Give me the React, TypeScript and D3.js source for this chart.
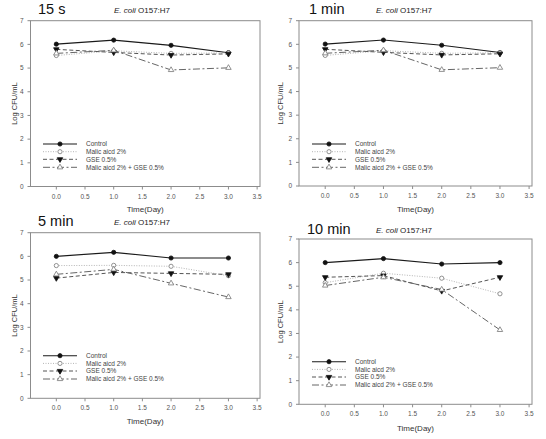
import React from "react";
import * as d3 from "d3";

const days = [0, 1, 2, 3];
const seriesNames = ["Control", "Malic aicd 2%", "GSE 0.5%", "Malic aicd 2% + GSE 0.5%"];
const panelTitles = ["15 s", "1 min", "5 min", "10 min"];
const organism = ["E. coli", " O157:H7"];
const xTicks = [0, 0.5, 1, 1.5, 2, 2.5, 3, 3.5];
const yTicks = [0, 1, 2, 3, 4, 5, 6, 7];

const control15s = [6.01, 6.18, 5.96, 5.65];
const malic15s = [5.53, 5.73, 5.62, 5.64];
const gse15s = [5.79, 5.66, 5.55, 5.6];
const combo15s = [5.62, 5.75, 4.92, 5.01];

const control1min = [6.01, 6.18, 5.96, 5.65];
const malic1min = [5.53, 5.73, 5.62, 5.64];
const gse1min = [5.79, 5.66, 5.55, 5.6];
const combo1min = [5.62, 5.75, 4.92, 5.01];

const control5min = [6.0, 6.17, 5.93, 5.93];
const malic5min = [5.61, 5.62, 5.58, 5.18];
const gse5min = [5.08, 5.32, 5.28, 5.24];
const combo5min = [5.24, 5.45, 4.86, 4.28];

const control10min = [6.0, 6.17, 5.94, 6.0];
const malic10min = [5.15, 5.55, 5.34, 4.68];
const gse10min = [5.38, 5.45, 4.8, 5.38];
const combo10min = [5.03, 5.38, 4.86, 3.15];

const panelData = [
  [control15s, malic15s, gse15s, combo15s],
  [control1min, malic1min, gse1min, combo1min],
  [control5min, malic5min, gse5min, combo5min],
  [control10min, malic10min, gse10min, combo10min],
];

// layout (pixel frames)
const layouts = [
  { left: 30.5, right: 260, top: 20.7, bottom: 186.5, titleX: 38, titleY: 14, orgX: 114, orgY: 13, xLabelY: 212, yLabelX: 14, legX: 43, legY: 144 },
  { left: 299, right: 532, top: 20.7, bottom: 186, titleX: 309, titleY: 14, orgX: 376, orgY: 13, xLabelY: 212, yLabelX: 280, legX: 312, legY: 144 },
  { left: 30.5, right: 260, top: 232.7, bottom: 398.3, titleX: 38, titleY: 226, orgX: 114, orgY: 225, xLabelY: 424, yLabelX: 14, legX: 43, legY: 355.7 },
  { left: 299, right: 532, top: 239, bottom: 404.3, titleX: 307, titleY: 233.5, orgX: 376, orgY: 232.5, xLabelY: 431, yLabelX: 280, legX: 312, legY: 361.7 },
];

const styles = [
  { stroke: "#1a1a1a", dash: "none", width: 1.1, marker: "circle", fill: "#111", mstroke: "#111" },
  { stroke: "#b5b5b5", dash: "1,1.5", width: 1, marker: "circle", fill: "#fff", mstroke: "#777" },
  { stroke: "#555", dash: "4,2.5", width: 1, marker: "tridown", fill: "#111", mstroke: "#111" },
  { stroke: "#666", dash: "7,2.5,2,2.5", width: 1, marker: "triup", fill: "#fff", mstroke: "#777" },
];

const font = "Arial, 'Liberation Sans', sans-serif";

function Marker({ x, y, s }: { x: number; y: number; s: any }) {
  if (s.marker === "circle") {
    return <circle cx={x} cy={y} r={2.1} fill={s.fill} stroke={s.mstroke} strokeWidth={0.8} />;
  }
  const sym = d3.symbol().type(d3.symbolTriangle).size(13)();
  const rot = s.marker === "tridown" ? 180 : 0;
  return (
    <path
      d={sym || ""}
      transform={`translate(${x},${y}) rotate(${rot})`}
      fill={s.fill}
      stroke={s.mstroke}
      strokeWidth={0.8}
    />
  );
}

function Panel({ idx }: { idx: number }) {
  const L = layouts[idx];
  const x = d3.scaleLinear().domain([-0.45, 3.55]).range([L.left, L.right]);
  const y = d3.scaleLinear().domain([0, 7]).range([L.bottom, L.top]);
  const line = d3
    .line<number>()
    .x((_, i) => x(days[i]))
    .y((d) => y(d));
  const series = panelData[idx];
  const legRowGap = [0, 7.7, 15.3, 23.3];
  return (
    <g>
      <rect
        x={L.left}
        y={L.top}
        width={L.right - L.left}
        height={L.bottom - L.top}
        fill="none"
        stroke="#8c8c8c"
        strokeWidth={1}
      />
      {yTicks.map((t) => (
        <g key={"y" + t}>
          <line x1={L.left - 3} x2={L.left} y1={y(t)} y2={y(t)} stroke="#8c8c8c" />
          <text
            x={L.left - 7}
            y={y(t) + 2.3}
            fontSize={6.5}
            textAnchor="end"
            fill="#555"
            fontFamily={font}
          >
            {t}
          </text>
        </g>
      ))}
      {xTicks.map((t) => (
        <g key={"x" + t}>
          <line x1={x(t)} x2={x(t)} y1={L.bottom} y2={L.bottom + 3} stroke="#8c8c8c" />
          <text
            x={x(t)}
            y={L.bottom + 12}
            fontSize={6.5}
            textAnchor="middle"
            fill="#555"
            fontFamily={font}
          >
            {d3.format(".1f")(t)}
          </text>
        </g>
      ))}
      <text
        x={(L.left + L.right) / 2}
        y={L.xLabelY}
        fontSize={8}
        textAnchor="middle"
        fill="#333"
        fontFamily={font}
      >
        Time(Day)
      </text>
      <text
        transform={`translate(${L.yLabelX},${(L.top + L.bottom) / 2}) rotate(-90)`}
        fontSize={7.5}
        textAnchor="middle"
        dy={2.5}
        fill="#333"
        fontFamily={font}
      >
        Log CFU/mL
      </text>
      <text x={L.titleX} y={L.titleY} fontSize={14.5} fill="#111" fontFamily={font}>
        {panelTitles[idx]}
      </text>
      <text x={L.orgX} y={L.orgY} fontSize={8} fill="#222" fontFamily={font}>
        <tspan fontStyle="italic">{organism[0]}</tspan>
        <tspan>{organism[1]}</tspan>
      </text>
      {series.map((vals, si) => (
        <path
          key={"l" + si}
          d={line(vals) || ""}
          fill="none"
          stroke={styles[si].stroke}
          strokeWidth={styles[si].width}
          strokeDasharray={styles[si].dash}
        />
      ))}
      {series.map((vals, si) =>
        vals.map((v, i) => <Marker key={"m" + si + "-" + i} x={x(days[i])} y={y(v)} s={styles[si]} />)
      )}
      {seriesNames.map((name, si) => {
        const ly = L.legY + legRowGap[si];
        return (
          <g key={"leg" + si}>
            <line
              x1={L.legX}
              x2={L.legX + 34}
              y1={ly}
              y2={ly}
              stroke={styles[si].stroke}
              strokeWidth={styles[si].width}
              strokeDasharray={styles[si].dash}
            />
            <Marker x={L.legX + 17} y={ly} s={styles[si]} />
            <text x={L.legX + 43} y={ly + 2.3} fontSize={6.5} fill="#444" fontFamily={font}>
              {name}
            </text>
          </g>
        );
      })}
    </g>
  );
}

export default function App() {
  return (
    <svg
      width={546}
      height={439}
      style={{ position: "absolute", left: 0, top: 0, background: "#fff" }}
    >
      <rect x={0} y={0} width={546} height={439} fill="#fff" />
      {[0, 1, 2, 3].map((i) => (
        <Panel key={i} idx={i} />
      ))}
    </svg>
  );
}
